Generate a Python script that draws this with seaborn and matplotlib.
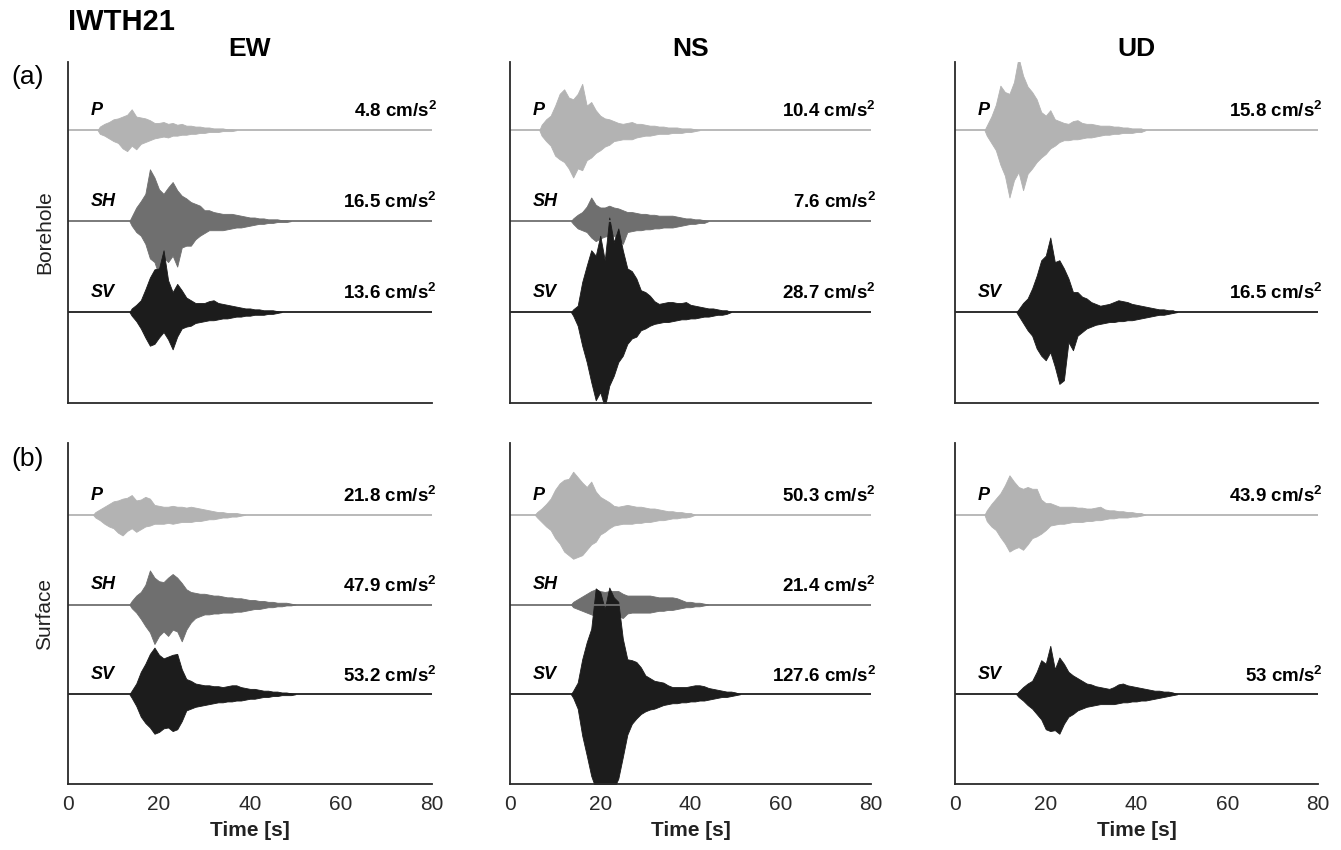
import numpy as np
import matplotlib
matplotlib.use("Agg")
import matplotlib.pyplot as plt
import seaborn as sns

# station / layout labels
station = "IWTH21"
components = ["EW", "NS", "UD"]
phases = ["P", "SH", "SV"]
row_names = ["Borehole", "Surface"]
row_tags = ["(a)", "(b)"]
time_ticks = [0, 20, 40, 60, 80]

# peak values printed at the right of each trace ("" = trace not shown)
peak_bh_ew = ["4.8", "16.5", "13.6"]
peak_bh_ns = ["10.4", "7.6", "28.7"]
peak_bh_ud = ["15.8", "", "16.5"]
peak_sf_ew = ["21.8", "47.9", "53.2"]
peak_sf_ns = ["50.3", "21.4", "127.6"]
peak_sf_ud = ["43.9", "", "53"]

# trace envelopes: deflection above (up) / below (dn)
# the trace baseline in % of trace spacing, one value per second from onset [s]
bh_ew_p_on = 7
bh_ew_p_up = [4, 7, 9, 12, 13, 15, 17, 23, 15, 14, 13, 11, 8, 8, 9, 7, 8, 6, 7, 5, 5, 4, 4, 3, 3, 2, 2, 2, 1, 1]
bh_ew_p_dn = [4, 6, 9, 12, 14, 20, 23, 17, 21, 15, 13, 11, 9, 8, 7, 8, 6, 6, 5, 5, 4, 4, 3, 3, 2, 2, 2, 1, 1, 1]
bh_ew_sh_on = 14
bh_ew_sh_up = [5, 15, 22, 30, 57, 48, 35, 30, 37, 43, 34, 28, 25, 21, 19, 17, 12, 12, 10, 9, 8, 8, 8, 7, 6, 5, 4, 4, 3, 3, 2, 2, 2, 1, 1]
bh_ew_sh_dn = [5, 12, 16, 25, 41, 45, 60, 40, 45, 38, 50, 29, 27, 27, 20, 16, 13, 10, 10, 10, 10, 9, 8, 7, 7, 6, 5, 4, 3, 3, 2, 2, 1, 1, 1]
bh_ew_sv_on = 14
bh_ew_sv_up = [4, 8, 13, 25, 38, 47, 48, 68, 35, 22, 31, 24, 16, 13, 10, 10, 10, 12, 13, 10, 9, 8, 7, 6, 5, 4, 4, 3, 3, 2, 2, 2, 1]
bh_ew_sv_dn = [4, 10, 18, 28, 37, 35, 28, 22, 30, 41, 27, 18, 16, 15, 12, 11, 10, 9, 9, 8, 7, 7, 6, 5, 5, 4, 4, 3, 3, 3, 2, 2, 1]

bh_ns_p_on = 7
bh_ns_p_up = [6, 12, 16, 27, 40, 45, 36, 34, 40, 51, 27, 31, 22, 16, 13, 12, 10, 8, 7, 8, 9, 7, 7, 6, 5, 5, 4, 4, 3, 3, 3, 2, 2, 2, 1]
bh_ns_p_dn = [6, 12, 17, 28, 32, 35, 42, 52, 42, 44, 33, 30, 25, 22, 18, 16, 12, 11, 10, 10, 10, 8, 7, 6, 6, 5, 4, 4, 4, 3, 3, 3, 2, 2, 1]
bh_ns_sh_on = 14
bh_ns_sh_up = [3, 7, 10, 16, 26, 18, 15, 15, 17, 15, 14, 12, 10, 10, 9, 8, 8, 7, 7, 6, 6, 6, 6, 5, 4, 3, 3, 2, 2, 1]
bh_ns_sh_dn = [3, 8, 10, 12, 18, 22, 19, 17, 16, 16, 20, 25, 12, 11, 10, 10, 9, 9, 8, 8, 7, 7, 7, 6, 5, 4, 3, 3, 2, 2]
bh_ns_sv_on = 14
bh_ns_sv_up = [3, 7, 33, 51, 68, 62, 84, 57, 104, 77, 92, 68, 48, 45, 37, 24, 22, 18, 12, 9, 10, 11, 11, 10, 10, 11, 8, 7, 6, 5, 4, 4, 3, 2, 2]
bh_ns_sv_dn = [4, 15, 37, 55, 77, 97, 88, 105, 81, 70, 55, 48, 35, 29, 27, 20, 18, 15, 13, 12, 11, 11, 10, 9, 8, 8, 7, 7, 6, 5, 5, 4, 3, 3, 2]

bh_ud_p_on = 7
bh_ud_p_up = [5, 15, 28, 49, 42, 40, 53, 80, 60, 48, 42, 34, 20, 16, 22, 12, 10, 8, 7, 10, 11, 8, 7, 7, 6, 5, 5, 5, 4, 4, 3, 3, 2, 2, 2]
bh_ud_p_dn = [6, 14, 22, 38, 50, 74, 55, 46, 66, 48, 42, 35, 30, 26, 20, 17, 13, 11, 11, 10, 10, 9, 8, 8, 7, 6, 5, 5, 4, 4, 3, 3, 3, 2, 2]
bh_ud_sv_on = 14
bh_ud_sv_up = [3, 10, 15, 26, 40, 57, 62, 82, 55, 57, 48, 37, 22, 22, 17, 15, 11, 9, 7, 8, 9, 11, 13, 12, 11, 9, 8, 7, 6, 5, 4, 3, 3, 2, 2]
bh_ud_sv_dn = [4, 12, 20, 26, 40, 48, 53, 44, 60, 79, 75, 33, 42, 26, 22, 18, 16, 14, 13, 12, 11, 11, 10, 10, 9, 9, 8, 7, 6, 5, 4, 3, 3, 2, 1]

sf_ew_p_on = 6
sf_ew_p_up = [3, 6, 9, 12, 15, 16, 18, 19, 22, 16, 17, 20, 18, 11, 10, 9, 9, 10, 9, 9, 8, 9, 8, 7, 6, 5, 4, 3, 3, 2, 2, 2, 1]
sf_ew_p_dn = [3, 6, 10, 13, 15, 20, 23, 18, 15, 19, 16, 13, 12, 10, 10, 10, 9, 10, 9, 8, 8, 8, 7, 7, 6, 5, 5, 4, 3, 3, 2, 2, 1]
sf_ew_sh_on = 14
sf_ew_sh_up = [4, 10, 14, 22, 38, 30, 26, 25, 30, 34, 30, 24, 17, 14, 13, 12, 12, 11, 10, 10, 9, 8, 8, 7, 7, 6, 5, 5, 4, 4, 3, 3, 2, 2, 2, 1]
sf_ew_sh_dn = [4, 9, 16, 24, 31, 44, 35, 30, 35, 28, 30, 41, 28, 20, 15, 13, 11, 11, 10, 10, 9, 9, 9, 8, 8, 7, 6, 5, 5, 4, 3, 3, 2, 2, 1, 1]
sf_ew_sv_on = 14
sf_ew_sv_up = [4, 12, 25, 34, 45, 52, 44, 40, 42, 44, 45, 28, 17, 15, 12, 11, 10, 10, 9, 9, 8, 9, 10, 10, 8, 7, 6, 6, 5, 4, 4, 3, 3, 2, 2, 1]
sf_ew_sv_dn = [4, 13, 25, 32, 37, 44, 42, 38, 37, 41, 39, 30, 18, 16, 14, 13, 12, 11, 10, 9, 9, 8, 8, 7, 7, 6, 5, 5, 4, 3, 3, 2, 2, 1, 1, 1]

sf_ns_p_on = 6
sf_ns_p_up = [3, 7, 12, 18, 28, 35, 39, 40, 48, 42, 36, 31, 37, 26, 20, 17, 14, 10, 9, 10, 11, 10, 9, 9, 8, 7, 7, 6, 5, 4, 4, 3, 3, 2, 2]
sf_ns_p_dn = [3, 8, 13, 17, 26, 32, 41, 45, 49, 47, 45, 39, 33, 30, 22, 19, 15, 12, 11, 10, 10, 10, 9, 9, 8, 8, 7, 6, 6, 5, 4, 4, 3, 3, 2]
sf_ns_sh_on = 14
sf_ns_sh_up = [3, 6, 9, 12, 15, 17, 15, 14, 15, 15, 15, 12, 10, 10, 10, 10, 10, 10, 9, 8, 8, 8, 8, 7, 5, 3, 3, 2, 2, 1]
sf_ns_sh_dn = [3, 5, 7, 9, 11, 13, 13, 13, 12, 11, 13, 15, 10, 9, 9, 9, 9, 9, 8, 7, 7, 6, 6, 5, 4, 3, 3, 2, 2, 1]
sf_ns_sv_on = 14
sf_ns_sv_up = [4, 13, 39, 58, 73, 118, 114, 95, 119, 108, 103, 62, 39, 38, 36, 30, 21, 18, 15, 14, 13, 10, 8, 8, 8, 8, 9, 10, 10, 9, 7, 6, 5, 4, 3, 3, 2]
sf_ns_sv_dn = [4, 16, 46, 68, 91, 105, 105, 105, 105, 105, 94, 70, 45, 33, 27, 22, 19, 17, 16, 14, 12, 11, 10, 10, 9, 9, 8, 8, 7, 7, 6, 5, 4, 3, 3, 2, 1]

sf_ud_p_on = 7
sf_ud_p_up = [5, 12, 18, 24, 33, 44, 37, 31, 29, 31, 29, 29, 17, 13, 13, 11, 9, 9, 9, 9, 8, 8, 7, 7, 8, 9, 6, 5, 5, 4, 4, 3, 3, 2, 2]
sf_ud_p_dn = [7, 13, 17, 25, 32, 41, 38, 36, 39, 33, 26, 24, 21, 17, 12, 11, 10, 10, 9, 8, 8, 8, 7, 7, 6, 6, 5, 4, 4, 3, 3, 3, 2, 2, 1]
sf_ud_sv_on = 14
sf_ud_sv_up = [3, 8, 12, 15, 25, 38, 34, 54, 28, 41, 34, 25, 21, 18, 15, 12, 11, 9, 8, 7, 6, 8, 11, 12, 10, 9, 8, 7, 6, 5, 4, 4, 3, 3, 2]
sf_ud_sv_dn = [3, 7, 12, 16, 22, 28, 39, 41, 40, 44, 33, 25, 22, 18, 16, 14, 13, 12, 11, 11, 11, 11, 10, 9, 9, 8, 8, 7, 7, 6, 5, 4, 3, 2, 1]

phase_colors = {"P": "#b3b3b3", "SH": "#6f6f6f", "SV": "#1c1c1c"}

# (onset, up, dn) per phase; None where the phase is not plotted
panels = [
    [
        (peak_bh_ew, [(bh_ew_p_on, bh_ew_p_up, bh_ew_p_dn), (bh_ew_sh_on, bh_ew_sh_up, bh_ew_sh_dn), (bh_ew_sv_on, bh_ew_sv_up, bh_ew_sv_dn)]),
        (peak_bh_ns, [(bh_ns_p_on, bh_ns_p_up, bh_ns_p_dn), (bh_ns_sh_on, bh_ns_sh_up, bh_ns_sh_dn), (bh_ns_sv_on, bh_ns_sv_up, bh_ns_sv_dn)]),
        (peak_bh_ud, [(bh_ud_p_on, bh_ud_p_up, bh_ud_p_dn), None, (bh_ud_sv_on, bh_ud_sv_up, bh_ud_sv_dn)]),
    ],
    [
        (peak_sf_ew, [(sf_ew_p_on, sf_ew_p_up, sf_ew_p_dn), (sf_ew_sh_on, sf_ew_sh_up, sf_ew_sh_dn), (sf_ew_sv_on, sf_ew_sv_up, sf_ew_sv_dn)]),
        (peak_sf_ns, [(sf_ns_p_on, sf_ns_p_up, sf_ns_p_dn), (sf_ns_sh_on, sf_ns_sh_up, sf_ns_sh_dn), (sf_ns_sv_on, sf_ns_sv_up, sf_ns_sv_dn)]),
        (peak_sf_ud, [(sf_ud_p_on, sf_ud_p_up, sf_ud_p_dn), None, (sf_ud_sv_on, sf_ud_sv_up, sf_ud_sv_dn)]),
    ],
]


def envelope(onset, up, dn, base):
    # upper / lower edge of the trace, closed onto the baseline at both ends
    n = max(len(up), len(dn))
    up = np.pad(np.asarray(up, float), (0, n - len(up)))
    dn = np.pad(np.asarray(dn, float), (0, n - len(dn)))
    t = onset + np.arange(n)
    t = np.concatenate([[onset - 0.5], t, [t[-1] + 1]])
    top = np.concatenate([[base], base + up / 100, [base]])
    bot = np.concatenate([[base], base - dn / 100, [base]])
    return t, top, bot


sns.set_style("white")
plt.rcParams["font.family"] = ["Liberation Sans", "DejaVu Sans"]
plt.rcParams["mathtext.fontset"] = "custom"
plt.rcParams["mathtext.rm"] = "Liberation Sans"
plt.rcParams["mathtext.bf"] = "Liberation Sans:bold"
plt.rcParams["text.color"] = "black"

fig = plt.figure(figsize=(13.41, 8.5), dpi=100)
W, H = 1341, 850
col_left = [68, 510, 955]
col_width = [364, 361, 363]
row_top = [62, 443]
ax_h = 341
spine_c = "#2a2a2a"

for r in range(2):
    for c in range(3):
        ax = fig.add_axes([col_left[c] / W, 1 - (row_top[r] + ax_h) / H, col_width[c] / W, ax_h / H])
        peaks, traces = panels[r][c]
        for k, ph in enumerate(phases):
            base = 2 - k
            tr = traces[k]
            if tr is None:
                continue
            col = phase_colors[ph]
            sns.lineplot(x=[0, 80], y=[base, base], ax=ax, color=col, lw=1.3)
            t, top, bot = envelope(tr[0], tr[1], tr[2], base)
            ax.fill_between(t, bot, top, color=col, lw=0.6, edgecolor=col)
            ax.text(5, base + 0.17, ph, fontsize=13, fontweight="bold", fontstyle="italic", ha="left", va="baseline")
            ax.text(81.1, base + 0.14, peaks[k] + r" cm/s$^{\mathbf{2}}$", fontsize=13.5, fontweight="bold",
                    ha="right", va="baseline", clip_on=False)
        ax.set_xlim(0, 80)
        ax.set_ylim(-1.0, 2.75 if r == 0 else 2.8)
        ax.set_yticks([])
        for s in ["top", "right"]:
            ax.spines[s].set_visible(False)
        for s in ["left", "bottom"]:
            ax.spines[s].set_color(spine_c)
            ax.spines[s].set_linewidth(1.3)
        ax.set_xticks(time_ticks)
        ax.tick_params(axis="x", direction="in", length=3, width=1, colors=spine_c, labelsize=15, pad=8)
        if r == 0:
            ax.set_xticklabels([])
            ax.tick_params(axis="x", length=0)
            ax.set_title(components[c], fontsize=19, fontweight="bold", pad=4)
        else:
            ax.set_xlabel("Time [s]", fontsize=15, fontweight="bold", labelpad=5, color="#222222")
        if c == 0:
            ax.set_ylabel(row_names[r], fontsize=15, labelpad=10, color="#222222")

fig.text(68 / W, 1 - 22 / H, station, fontsize=21, fontweight="bold", ha="left", va="center")
fig.text(28 / W, 1 - 77 / H, row_tags[0], fontsize=19, ha="center", va="center")
fig.text(28 / W, 1 - 459 / H, row_tags[1], fontsize=19, ha="center", va="center")

fig.savefig("out.png", dpi=100)
